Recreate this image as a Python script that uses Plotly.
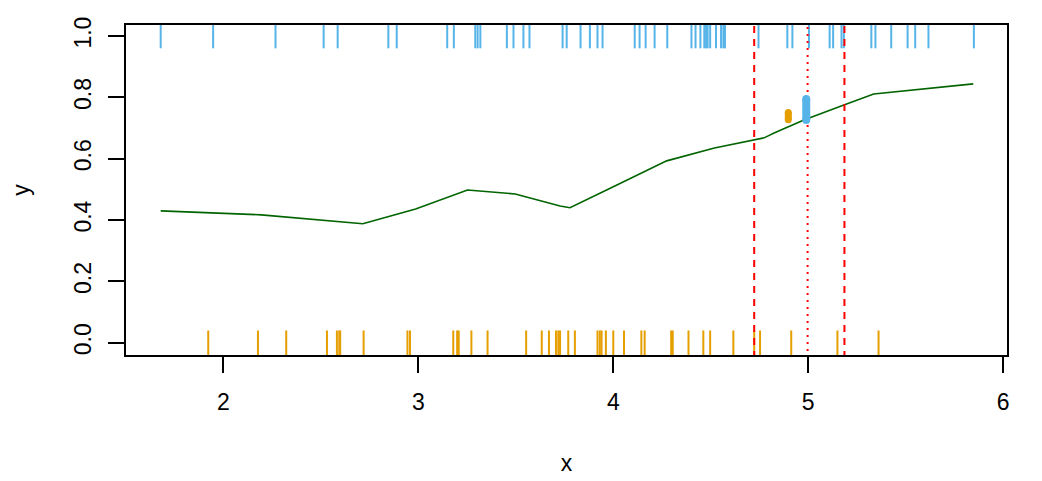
import plotly.graph_objects as go

# --- data ---
top_rug_x = [1.678, 1.947, 2.267, 2.514, 2.586, 2.846, 2.889, 3.148, 3.182, 3.292, 3.304, 3.318,
             3.454, 3.488, 3.539, 3.570, 3.740, 3.761, 3.832, 3.880, 3.919, 3.945, 4.110, 4.135,
             4.166, 4.212, 4.277, 4.401, 4.422, 4.447, 4.467, 4.476, 4.484, 4.497, 4.527, 4.553,
             4.565, 4.573, 4.745, 4.893, 4.919, 5.004, 5.110, 5.128, 5.171, 5.183, 5.324, 5.345,
             5.426, 5.510, 5.549, 5.617, 5.850]
bottom_rug_x = [1.922, 2.177, 2.322, 2.531, 2.582, 2.594, 2.599, 2.719, 2.944, 2.957, 3.179, 3.199,
                3.207, 3.272, 3.355, 3.553, 3.633, 3.670, 3.706, 3.718, 3.727, 3.769, 3.803, 3.919,
                3.931, 3.940, 3.962, 4.000, 4.055, 4.144, 4.161, 4.297, 4.305, 4.386, 4.462, 4.497,
                4.616, 4.723, 4.753, 4.913, 5.150, 5.361]
curve_x = [1.678, 2.194, 2.715, 2.986, 3.252, 3.497, 3.727, 3.778, 4.008, 4.274, 4.519, 4.723,
           4.774, 4.825, 4.978, 5.183, 5.336, 5.847]
curve_y = [0.430, 0.417, 0.388, 0.436, 0.498, 0.485, 0.446, 0.440, 0.511, 0.593, 0.635, 0.661,
           0.668, 0.684, 0.726, 0.775, 0.811, 0.844]
interval_dashed_x = [4.723, 5.186]
center_dotted_x = [4.997]
orange_seg_x = [4.898]
orange_seg_y = [0.727, 0.751]
blue_seg_x = [4.990]
blue_seg_y = [0.726, 0.795]
x_ticks = [2, 3, 4, 5, 6]
y_ticks = [0.0, 0.2, 0.4, 0.6, 0.8, 1.0]

BLUE = "#56B4E9"
ORANGE = "#E69F00"
FONT = "Arial, Liberation Sans, sans-serif"
RUG_HALF = 0.04
FS = 23


def rug(xs, y0):
    xx, yy = [], []
    for v in xs:
        xx += [v, v, None]
        yy += [y0 - RUG_HALF, y0 + RUG_HALF, None]
    return xx, yy


fig = go.Figure()

tx, ty = rug(top_rug_x, 1.0)
fig.add_trace(go.Scatter(x=tx, y=ty, mode="lines", line=dict(color=BLUE, width=2),
                         hoverinfo="skip", showlegend=False))
bx, by = rug(bottom_rug_x, 0.0)
fig.add_trace(go.Scatter(x=bx, y=by, mode="lines", line=dict(color=ORANGE, width=2),
                         hoverinfo="skip", showlegend=False))

fig.add_trace(go.Scatter(x=curve_x, y=curve_y, mode="lines",
                         line=dict(color="#006400", width=1.6), showlegend=False))

for v in interval_dashed_x:
    fig.add_trace(go.Scatter(x=[v, v], y=[-0.05, 1.05], mode="lines",
                             line=dict(color="#FF0000", width=2, dash="7px,6px"),
                             showlegend=False, hoverinfo="skip"))
for v in center_dotted_x:
    fig.add_trace(go.Scatter(x=[v, v], y=[-0.05, 1.05], mode="lines",
                             line=dict(color="#FF0000", width=2, dash="2px,5px"),
                             showlegend=False, hoverinfo="skip"))

for sx, sy, col, w in [(orange_seg_x, orange_seg_y, ORANGE, 7), (blue_seg_x, blue_seg_y, BLUE, 8)]:
    fig.add_trace(go.Scatter(x=sx * 2, y=sy, mode="lines+markers",
                             line=dict(color=col, width=w),
                             marker=dict(color=col, size=w, line=dict(width=0)),
                             showlegend=False))

# page body has an 8px margin: compensate so the plot area lands at 126..1007 x 25..355
fig.update_layout(
    width=1034, height=473,
    margin=dict(l=118, r=35, t=17, b=126, autoexpand=False),
    paper_bgcolor="white", plot_bgcolor="white",
    font=dict(family=FONT, size=FS, color="black"),
    xaxis=dict(range=[1.5, 6.02], tickvals=x_ticks, ticks="outside", ticklen=16, tickwidth=1.5,
               tickcolor="black", showline=True, linecolor="black", linewidth=1.5, mirror=True,
               showgrid=False, zeroline=False, ticklabelstandoff=10, automargin=False,
               tickfont=dict(size=FS, family=FONT),
               title=dict(text="x", font=dict(size=FS, family=FONT), standoff=41)),
    yaxis=dict(range=[-0.04, 1.036], tickvals=y_ticks, tickformat=".1f", tickangle=-90,
               ticks="outside", ticklen=16, tickwidth=1.5, tickcolor="black",
               showline=True, linecolor="black", linewidth=1.5, mirror=True,
               showgrid=False, zeroline=False, ticklabelstandoff=8, automargin=False,
               tickfont=dict(size=FS, family=FONT),
               title=dict(text="y", font=dict(size=FS, family=FONT), standoff=37)),
)

fig.write_html("out.html")
